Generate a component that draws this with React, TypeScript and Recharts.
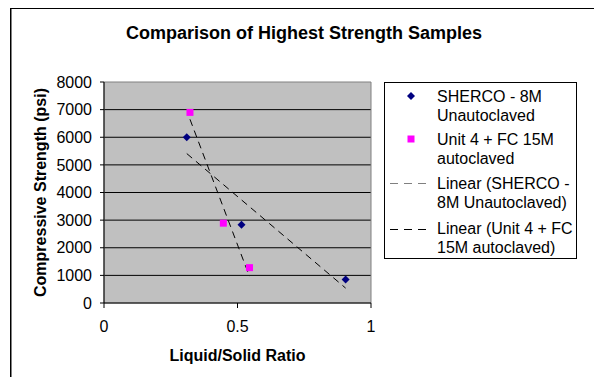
import { ScatterChart, Scatter, XAxis, YAxis, CartesianGrid, ReferenceArea, Label } from 'recharts'

const FONT = '"Liberation Sans", Arial, sans-serif'

const SERIES_NAMES = ['SHERCO - 8M Unautoclaved', 'Unit 4 + FC 15M autoclaved']

// Liquid/solid ratio vs compressive strength (psi)
const SHERCO_X = [0.31, 0.515, 0.905]
const SHERCO_Y = [6000, 2830, 850]
const UNIT4_X = [0.322, 0.447, 0.545]
const UNIT4_Y = [6900, 2890, 1280]

const X_TICKS = [0, 0.5, 1]
const Y_TICKS = [0, 1000, 2000, 3000, 4000, 5000, 6000, 7000, 8000]
const GRID_VALUES = [1000, 2000, 3000, 4000, 5000, 6000, 7000]

const toPoints = (xs: number[], ys: number[]) => xs.map((x, i) => ({ x, y: ys[i] }))

// least-squares trendline spanning the series' x range
function linearFit(xs: number[], ys: number[]) {
  const n = xs.length
  const mx = xs.reduce((a, b) => a + b, 0) / n
  const my = ys.reduce((a, b) => a + b, 0) / n
  let sxy = 0
  let sxx = 0
  xs.forEach((x, i) => {
    sxy += (x - mx) * (ys[i] - my)
    sxx += (x - mx) * (x - mx)
  })
  const slope = sxy / sxx
  const x0 = Math.min(...xs)
  const x1 = Math.max(...xs)
  return [
    { x: x0, y: my + slope * (x0 - mx) },
    { x: x1, y: my + slope * (x1 - mx) },
  ]
}

const sherco = toPoints(SHERCO_X, SHERCO_Y)
const unit4 = toPoints(UNIT4_X, UNIT4_Y)
const shercoFit = linearFit(SHERCO_X, SHERCO_Y)
const unit4Fit = linearFit(UNIT4_X, UNIT4_Y)

const Diamond = (props: any) => {
  const { cx, cy } = props
  const r = 4
  return <polygon points={`${cx},${cy - r} ${cx + r},${cy} ${cx},${cy + r} ${cx - r},${cy}`} fill="#000080" />
}

const Square = (props: any) => {
  const { cx, cy } = props
  return <rect x={cx - 3.5} y={cy - 3.5} width={7} height={7} fill="#ff00ff" />
}

const NoDot = () => <g />

const tickStyle = { fill: '#000', fontSize: 16, fontFamily: FONT }

function LegendBox() {
  const textLines = [
    ['SHERCO - 8M', 'Unautoclaved'],
    ['Unit 4 + FC 15M', 'autoclaved'],
    ['Linear (SHERCO -', '8M Unautoclaved)'],
    ['Linear (Unit 4 + FC', '15M autoclaved)'],
  ]
  const tops = [4, 47, 91, 136]
  return (
    <div
      style={{
        position: 'absolute',
        left: 384,
        top: 82,
        width: 191,
        height: 175,
        border: '1px solid #000',
        background: '#fff',
        fontFamily: FONT,
        fontSize: 16,
        lineHeight: '19px',
        color: '#000',
      }}
    >
      <svg width={191} height={175} style={{ position: 'absolute', left: 0, top: 0 }}>
        <Diamond cx={26} cy={13} />
        <Square cx={26} cy={56} />
        <line x1={5} x2={42} y1={100.5} y2={100.5} stroke="#808080" strokeDasharray="8 6" />
        <line x1={5} x2={42} y1={146.5} y2={146.5} stroke="#000" strokeDasharray="8 6" />
      </svg>
      {textLines.map((lines, i) => (
        <div key={i} style={{ position: 'absolute', left: 52, top: tops[i], whiteSpace: 'nowrap' }}>
          {lines.map((l) => (
            <div key={l}>{l}</div>
          ))}
        </div>
      ))}
    </div>
  )
}

export default function App() {
  return (
    <div style={{ position: 'absolute', left: 0, top: 0, width: 594, height: 377, overflow: 'hidden', background: '#fff' }}>
      <div
        style={{
          position: 'absolute',
          left: 10,
          top: 8,
          width: 600,
          height: 400,
          borderTop: '1px solid #000',
          borderLeft: '1px solid #000',
          boxShadow: 'inset 1px 0 0 #808080',
        }}
      />
      <div
        style={{
          position: 'absolute',
          left: 304,
          top: 23,
          transform: 'translateX(-50%)',
          whiteSpace: 'nowrap',
          fontFamily: FONT,
          fontWeight: 'bold',
          fontSize: 18,
          lineHeight: '20px',
          color: '#000',
        }}
      >
        Comparison of Highest Strength Samples
      </div>
      <div style={{ position: 'absolute', left: 0, top: 0 }}>
        <ScatterChart width={594} height={377} margin={{ top: 82, right: 223, bottom: 0, left: 0 }}>
          <CartesianGrid
            fill="#c0c0c0"
            fillOpacity={1}
            stroke="#000"
            vertical={false}
            horizontalValues={GRID_VALUES}
          />
          <ReferenceArea x1={0} x2={1} y1={0} y2={8000} fill="none" stroke="#808080" />
          <XAxis
            type="number"
            dataKey="x"
            domain={[0, 1]}
            ticks={X_TICKS}
            interval={0}
            height={74}
            tickSize={5}
            tickMargin={13}
            axisLine={{ stroke: '#000' }}
            tickLine={{ stroke: '#000' }}
            tick={tickStyle}
          >
            <Label
              value="Liquid/Solid Ratio"
              position="insideBottom"
              offset={16}
              style={{ fontFamily: FONT, fontWeight: 'bold', fontSize: 16, fill: '#000' }}
            />
          </XAxis>
          <YAxis
            type="number"
            dataKey="y"
            domain={[0, 8000]}
            ticks={Y_TICKS}
            interval={0}
            width={104}
            tickSize={4}
            tickMargin={8}
            axisLine={{ stroke: '#000' }}
            tickLine={{ stroke: '#000' }}
            tick={tickStyle}
          >
            <Label
              value="Compressive Strength (psi)"
              angle={-90}
              position="insideLeft"
              offset={40}
              style={{ fontFamily: FONT, fontWeight: 'bold', fontSize: 16, fill: '#000', textAnchor: 'middle' }}
            />
          </YAxis>
          <Scatter
            name={`Linear (${SERIES_NAMES[0]})`}
            data={shercoFit}
            line={{ stroke: '#000', strokeDasharray: '7 5', strokeWidth: 1 }}
            shape={NoDot}
            isAnimationActive={false}
          />
          <Scatter
            name={`Linear (${SERIES_NAMES[1]})`}
            data={unit4Fit}
            line={{ stroke: '#000', strokeDasharray: '7 5', strokeWidth: 1 }}
            shape={NoDot}
            isAnimationActive={false}
          />
          <Scatter name={SERIES_NAMES[0]} data={sherco} shape={Diamond} isAnimationActive={false} />
          <Scatter name={SERIES_NAMES[1]} data={unit4} shape={Square} isAnimationActive={false} />
        </ScatterChart>
      </div>
      <LegendBox />
    </div>
  )
}
